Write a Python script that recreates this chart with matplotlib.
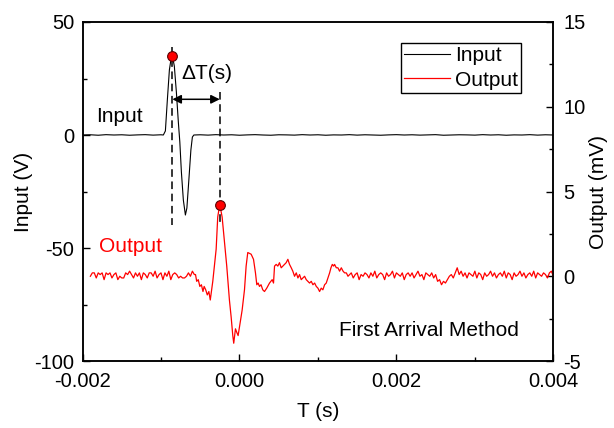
import numpy as np
import matplotlib.pyplot as plt
from matplotlib.ticker import MultipleLocator, FormatStrFormatter

plt.rcParams['font.family'] = ['Liberation Sans', 'DejaVu Sans']
plt.rcParams['font.size'] = 15
plt.rcParams['axes.unicode_minus'] = False

# ---- input signal (time in microseconds, volts) ----
t_in_pre = [-2000, -1900, -1800, -1700, -1600, -1500, -1400, -1300, -1200, -1100, -1000]
v_in_pre = [0.0, 0.1, -0.1, 0.15, 0.0, 0.1, -0.1, 0.05, 0.15, -0.05, 0.1]

t_in_pulse = [-970, -944, -919, -893, -874, -855, -830, -804, -779, -760, -740,
              -715, -689, -670, -645, -619, -600, -581]
v_in_pulse = [0.0, 1.8, 15.5, 28.8, 33.2, 35.0, 30.5, 19.0, 5.8, -3.1, -16.4,
              -28.8, -35.4, -32.3, -19.9, -6.6, -0.9, 0.0]

t_in_post = list(range(-500, 4001, 100))
v_in_post = [0.1, -0.05, 0.15, 0.0, 0.1, -0.1, 0.05, 0.15, 0.0, -0.1,
             0.1, 0.05, -0.05, 0.15, 0.0, 0.1, -0.1, 0.05, 0.0, 0.15,
             -0.05, 0.1, 0.0, -0.1, 0.05, 0.15, 0.0, 0.1, -0.05, 0.05,
             0.15, -0.1, 0.0, 0.1, 0.05, -0.05, 0.15, 0.0, 0.1, -0.1,
             0.05, 0.0, 0.15, -0.05, 0.1, 0.0]

# ---- output signal (time in microseconds, mV) ----
v_out_pre = [0.0, 0.2, 0.2, -0.1, 0.2, 0.1, 0.2, -0.2, 0.2, 0.1,
             0.2, -0.1, 0.1, 0.2, -0.2, 0.0, -0.1, -0.1, 0.2, 0.1,
             0.3, 0.1, -0.1, 0.2, 0.0, 0.2, -0.2, 0.2, 0.1, -0.1,
             0.2, 0.2, 0.0, 0.3, -0.1, 0.1, 0.2, -0.2, 0.2, 0.0,
             0.3, -0.2, 0.1, 0.2, 0.1, -0.1, 0.0, -0.1, -0.1, 0.0,
             0.2, 0.0, 0.3, 0.1]
t_out_pre = [-1900 + 25 * i for i in range(len(v_out_pre))]

t_out_event = [-560, -545, -525, -505, -485, -465, -450, -430, -410, -390,
               -372, -355, -340, -320, -297, -277, -251, -221, -191, -162,
               -128, -106, -85, -73, -51, -35, -17, 9, 34, 64,
               85, 106, 149, 179, 204, 221, 238, 255, 275, 297,
               319, 348, 383, 417, 434, 447, 468, 489, 510, 532,
               553, 574, 595, 617, 638, 660, 680, 702, 724, 745,
               766, 787, 808, 830, 851, 872, 893, 915, 936, 958,
               979, 1000, 1021, 1042, 1063, 1085, 1106, 1128, 1149, 1166,
               1183, 1200, 1212, 1234, 1255, 1276, 1298, 1320, 1340, 1362,
               1383, 1404]
v_out_event = [0.1, -0.3, -0.2, -0.6, -0.5, -0.9, -0.6, -0.8, -1.1, -0.9,
               -1.4, -0.8, -0.3, 0.6, 1.6, 3.5, 4.23, 3.5, 2.0, 0.6,
               -1.4, -2.4, -3.5, -3.95, -3.1, -3.3, -3.5, -2.75, -2.0, -0.8,
               0.6, 1.4, 1.3, 1.0, 0.2, -0.5, -0.4, -0.6, -0.5, -0.8,
               -0.9, -0.7, -0.4, -0.2, -0.4, 0.6, 0.7, 0.6, 0.8, 0.5,
               0.6, 0.7, 0.8, 1.0, 0.7, 0.5, 0.3, 0.0, 0.2, -0.1,
               0.1, -0.2, -0.1, 0.0, -0.2, -0.3, -0.4, -0.3, -0.5, -0.4,
               -0.6, -0.7, -0.9, -0.7, -0.8, -0.5, -0.4, -0.1, 0.2, 0.5,
               0.7, 0.6, 0.7, 0.5, 0.5, 0.3, 0.5, 0.3, 0.2, 0.2,
               0.0, 0.1]

v_out_post = [0.2, -0.1, 0.1, 0.2, -0.2, 0.1, 0.0, 0.2, 0.1, -0.1,
              0.2, 0.0, 0.3, -0.1, 0.1, 0.2, 0.1, -0.2, 0.2, 0.0,
              0.1, 0.3, -0.1, 0.2, 0.1, 0.0, 0.2, -0.2, 0.1, 0.2,
              0.0, 0.2, -0.1, 0.1, 0.3, 0.0, 0.1, -0.2, 0.2, 0.1,
              0.0, 0.2, -0.1, 0.1, -0.3, -0.2, -0.5, -0.3, -0.4, -0.2,
              0.0, 0.1, -0.1, 0.2, 0.5, 0.1, 0.3, 0.0, 0.2, -0.1,
              0.2, 0.1, 0.0, 0.3, -0.1, 0.2, 0.1, -0.2, 0.2, 0.0,
              0.1, 0.3, 0.0, 0.2, -0.1, 0.1, 0.2, 0.0, 0.3, -0.1,
              0.2, 0.1, -0.2, 0.2, 0.0, 0.1, 0.3, 0.0, 0.2, -0.1,
              0.1, 0.2, 0.0, 0.3, -0.1, 0.2, 0.1, 0.0, 0.2, 0.1,
              -0.1, 0.2, 0.3, 0.0]
t_out_post = [1425 + 25 * i for i in range(len(v_out_post))]

t_in = np.array(t_in_pre + t_in_pulse + t_in_post) * 1e-6
v_in = np.array(v_in_pre + v_in_pulse + v_in_post)
t_out = np.array(t_out_pre + t_out_event + t_out_post) * 1e-6
v_out = np.array(v_out_pre + v_out_event + v_out_post)

i_in = np.argmax(v_in)
i_out = np.argmax(v_out)
t_first_in, peak_in = t_in[i_in], v_in[i_in]
t_first_out, peak_out = t_out[i_out], v_out[i_out]

fig = plt.figure(figsize=(6.14, 4.28), dpi=100)
ax = fig.add_axes([0.1344, 0.1565, 0.7668, 0.7921])
ax2 = ax.twinx()

# dashed markers of the first arrivals and the delta T arrow
ax.plot([t_first_in, t_first_in], [39, -40], color='black', lw=1.1, ls=(0, (5, 3)))
ax.plot([t_first_out, t_first_out], [19, -40], color='black', lw=1.1, ls=(0, (5, 3)))
ax.annotate('', xy=(t_first_out, 15.8), xytext=(t_first_in, 15.8),
            arrowprops=dict(arrowstyle='<|-|>', color='black', lw=1.1,
                            mutation_scale=13, shrinkA=0, shrinkB=0))

l1, = ax.plot(t_in, v_in, color='black', lw=0.8, label='Input')
ax.plot(t_first_in, peak_in, 'o', color='red', mec='#5a0000', ms=7, mew=0.8, zorder=5)
l2, = ax2.plot(t_out, v_out, color='red', lw=0.9, label='Output')
ax2.plot(t_first_out, peak_out, 'o', color='red', mec='#5a0000', ms=7, mew=0.8, zorder=5)

ax.set_xlim(-0.002, 0.004)
ax.set_ylim(-100, 50)
ax2.set_ylim(-5, 15)

ax.xaxis.set_major_locator(MultipleLocator(0.002))
ax.xaxis.set_minor_locator(MultipleLocator(0.001))
ax.xaxis.set_major_formatter(FormatStrFormatter('%.3f'))
ax.yaxis.set_major_locator(MultipleLocator(50))
ax.yaxis.set_minor_locator(MultipleLocator(25))
ax2.yaxis.set_major_locator(MultipleLocator(5))
ax2.yaxis.set_minor_locator(MultipleLocator(2.5))

ax.tick_params(which='both', direction='in', top=False, right=False, width=1, labelsize=14.5)
ax.tick_params(which='major', length=5)
ax.tick_params(which='minor', length=3)
ax.tick_params(axis='y', pad=6)
ax.tick_params(axis='x', pad=8)
ax2.tick_params(which='both', direction='in', width=1, labelsize=14.5)
ax2.tick_params(which='major', length=5, pad=7)
ax2.tick_params(which='minor', length=3)
for a in (ax, ax2):
    for s in a.spines.values():
        s.set_linewidth(1.1)

ax.set_xlabel('T (s)', labelpad=8)
ax.set_ylabel('Input (V)', labelpad=1)
ax2.set_ylabel('Output (mV)', labelpad=3)

ax.text(-0.001825, 8, 'Input', va='center', ha='left')
ax.text(-0.001796, -49.4, 'Output', color='red', va='center', ha='left')
ax.text(0.001267, -86.6, 'First Arrival Method', va='center', ha='left')
ax.text(-0.000744, 27.4, '\u0394T(s)', va='center', ha='left')

leg = ax2.legend(handles=[l1, l2], loc='upper left', bbox_to_anchor=(0.6765, 0.937),
                 borderaxespad=0, borderpad=0.15, labelspacing=0.25,
                 handlelength=2.2, handletextpad=0.25, fancybox=False,
                 framealpha=1, edgecolor='black')
leg.get_frame().set_linewidth(1)

fig.savefig('out.png', dpi=100)
